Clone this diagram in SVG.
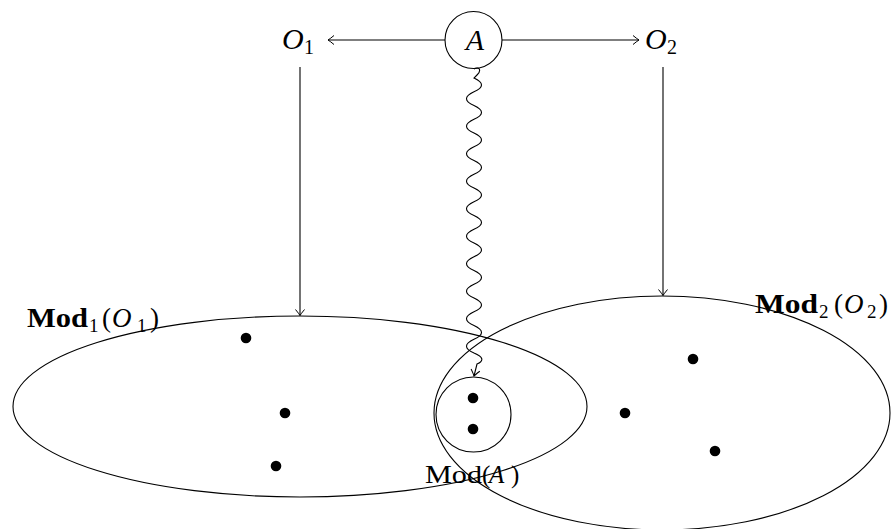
<svg xmlns="http://www.w3.org/2000/svg" width="892" height="529" viewBox="0 0 892 529">
<defs>
<marker id="to" viewBox="-8 -6 10 12" markerWidth="10" markerHeight="12" refX="0" refY="0" orient="auto" markerUnits="userSpaceOnUse">
<path d="M-6,-4.5 Q-1.5,-0.8 0,0 Q-1.5,0.8 -6,4.5" fill="none" stroke="#000" stroke-width="1"/>
</marker>
<style>
.ln{fill:none;stroke:#000;stroke-width:1.1}
.dot{fill:#000}
text{font-family:"Liberation Serif","Times New Roman","DejaVu Serif",serif;fill:#000}
.it{font-style:italic}
.bf{font-weight:bold}
</style>
</defs>
<g id="regions">
<ellipse id="mod1" class="ln" cx="300" cy="406.5" rx="287" ry="90.5"/>
<ellipse id="mod2" class="ln" cx="662" cy="413" rx="228" ry="117"/>
</g>
<g id="connectors">
<line class="ln" x1="445" y1="40" x2="328" y2="40" marker-end="url(#to)"/>
<line class="ln" x1="502" y1="40" x2="639" y2="40" marker-end="url(#to)"/>
<line class="ln" x1="300" y1="67" x2="300" y2="315.5" marker-end="url(#to)"/>
<line class="ln" x1="663" y1="67" x2="663" y2="295.5" marker-end="url(#to)"/>
<path class="ln" d="M474,69 C479,66 482,70 477,75 L474,78 q15,6.875 0,13.75 t0,13.75 t0,13.75 t0,13.75 t0,13.75 t0,13.75 t0,13.75 t0,13.75 t0,13.75 t0,13.75 t0,13.75 t0,13.75 t0,13.75 t0,13.75 t0,13.75 t0,13.75 t0,13.75 t0,13.75 t0,13.75 t0,13.75 q14,6 3,11 L474,376" marker-end="url(#to)"/>
</g>
<g id="nodeA">
<circle class="ln" cx="473.5" cy="40" r="28.5"/>
<text class="it" x="475" y="50" font-size="30" text-anchor="middle">A</text>
</g>
<g id="O1">
<text class="it" x="282" y="49" font-size="30">O</text>
<text x="304" y="54" font-size="20">1</text>
</g>
<g id="O2">
<text class="it" x="645" y="49" font-size="30">O</text>
<text x="667" y="54" font-size="20">2</text>
</g>
<g id="modA">
<circle class="ln" cx="473.5" cy="414.5" r="37.5"/>
<circle class="dot" cx="473" cy="398" r="5.3"/>
<circle class="dot" cx="473" cy="429" r="5.3"/>
<text x="425" y="483" font-size="25" textLength="57" lengthAdjust="spacingAndGlyphs">Mod</text>
<text x="482" y="483" font-size="25">(</text>
<text class="it" x="489" y="483" font-size="25">A</text>
<text x="511" y="483" font-size="25">)</text>
</g>
<g id="mod1label">
<text class="bf" x="27" y="327" font-size="27" textLength="61" lengthAdjust="spacingAndGlyphs">Mod</text>
<text x="89" y="332" font-size="19">1</text>
<text x="102" y="327" font-size="27">(</text>
<text class="it" x="112" y="327" font-size="27">O</text>
<text x="137" y="332" font-size="19">1</text>
<text x="150" y="327" font-size="27">)</text>
</g>
<g id="mod2label">
<text class="bf" x="755" y="313" font-size="27" textLength="63" lengthAdjust="spacingAndGlyphs">Mod</text>
<text x="819" y="318" font-size="19">2</text>
<text x="834" y="313" font-size="27">(</text>
<text class="it" x="844" y="313" font-size="27">O</text>
<text x="867" y="318" font-size="19">2</text>
<text x="879" y="313" font-size="27">)</text>
</g>
<g id="points">
<circle class="dot" cx="246" cy="338" r="5.3"/>
<circle class="dot" cx="285" cy="413" r="5.3"/>
<circle class="dot" cx="276" cy="466" r="5.3"/>
<circle class="dot" cx="693" cy="359" r="5.3"/>
<circle class="dot" cx="625" cy="413" r="5.3"/>
<circle class="dot" cx="715" cy="451" r="5.3"/>
</g>
</svg>
